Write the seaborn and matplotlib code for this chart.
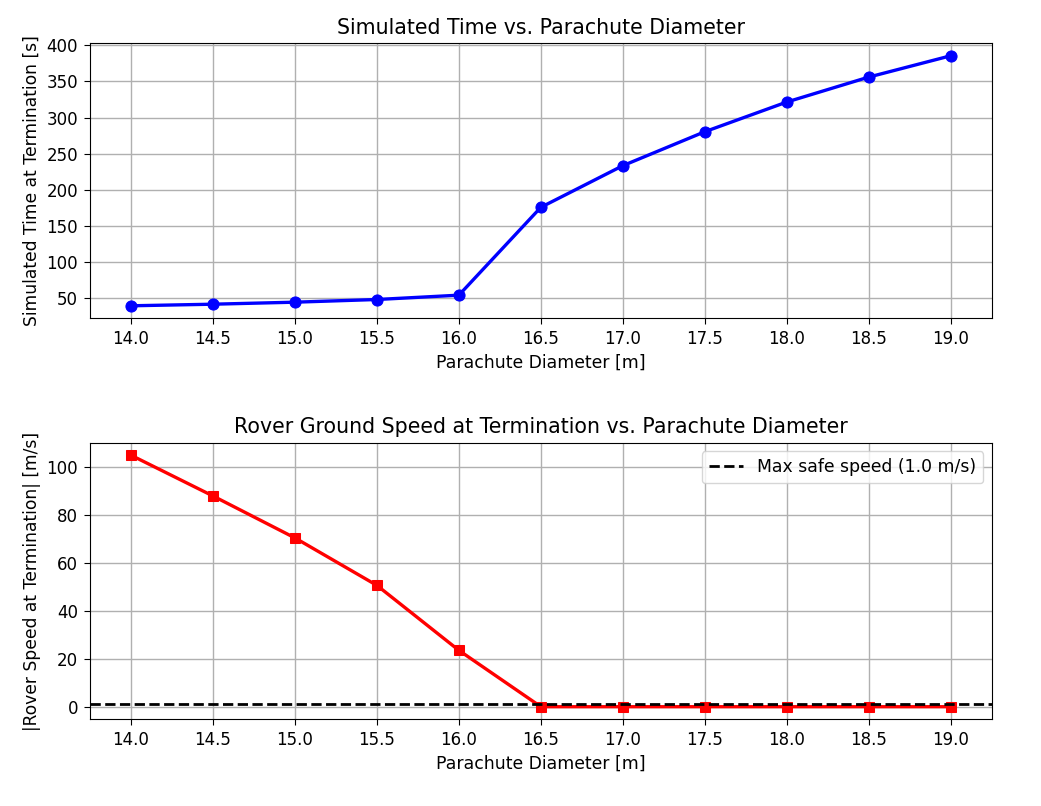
import numpy as np
import pandas as pd
import matplotlib
matplotlib.use("Agg")
import matplotlib.pyplot as plt
import seaborn as sns

# values
diameters = [14.0, 14.5, 15.0, 15.5, 16.0, 16.5, 17.0, 17.5, 18.0, 18.5, 19.0]
sim_time = [39.5, 41.7, 44.5, 48.2, 54.2, 175.8, 233.4, 280.4, 321.5, 356.0, 385.5]
ground_speed = [104.9, 87.9, 70.4, 50.6, 23.5, 0.0, 0.0, 0.0, 0.0, 0.0, 0.0]
max_safe_speed = 1.0

df = pd.DataFrame({"diameter": diameters, "time": sim_time, "speed": ground_speed})

plt.rcParams["font.size"] = 12
plt.rcParams["font.family"] = ["DejaVu Sans"]
plt.rcParams["xtick.major.pad"] = 4.5
plt.rcParams["ytick.major.pad"] = 4.5
plt.rcParams["xtick.major.size"] = 4.2
plt.rcParams["ytick.major.size"] = 4.2

fig = plt.figure(figsize=(10.41, 8.06), dpi=100)
ax1 = fig.add_axes([0.0865, 0.6051, 0.8661, 0.3412])
ax2 = fig.add_axes([0.0865, 0.1076, 0.8661, 0.3432])

# top: simulated time
sns.lineplot(data=df, x="diameter", y="time", ax=ax1, color="blue", linewidth=2.4,
             marker="o", markersize=8, markeredgecolor="blue")
ax1.set_title("Simulated Time vs. Parachute Diameter", fontsize=14.8, pad=7)
ax1.set_xlabel("Parachute Diameter [m]", fontsize=12.4)
ax1.set_ylabel("Simulated Time at Termination [s]", fontsize=12.3)
ax1.set_xticks(diameters)
ax1.grid(True, color="#b0b0b0", linewidth=1.0)

# bottom: ground speed
sns.lineplot(data=df, x="diameter", y="speed", ax=ax2, color="red", linewidth=2.4,
             marker="s", markersize=7, markeredgecolor="red")
ax2.axhline(max_safe_speed, color="black", linestyle="--", linewidth=2.0,
            label="Max safe speed (1.0 m/s)")
ax2.set_title("Rover Ground Speed at Termination vs. Parachute Diameter", fontsize=14.8, pad=7)
ax2.set_xlabel("Parachute Diameter [m]", fontsize=12.4)
ax2.set_ylabel("|Rover Speed at Termination| [m/s]", fontsize=12.3)
ax2.set_xticks(diameters)
ax2.grid(True, color="#b0b0b0", linewidth=1.0)
ax2.legend(loc="upper right", fontsize=12.4)

fig.savefig("out.png", dpi=100)
